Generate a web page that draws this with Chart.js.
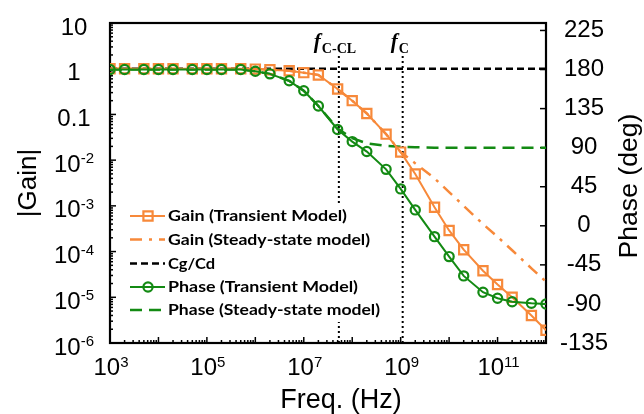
<!DOCTYPE html>
<html><head><meta charset="utf-8">
<script src="https://cdn.jsdelivr.net/npm/chart.js@4.4.0/dist/chart.umd.min.js"></script>
<style>html,body{margin:0;padding:0;background:#fff;}canvas{display:block;}</style>
</head><body>
<canvas id="c" width="644" height="414"></canvas>
<script>
// ---------- data ----------
const freqHz = [1e3,2e3,5e3,1e4,2e4,5e4,1e5,2e5,5e5,1e6,2e6,5e6,1e7,2e7,5e7,1e8,2e8,5e8,1e9,2e9,5e9,1e10,2e10,5e10,1e11,2e11,5e11,1e12];
const gainTransient = [1,1,1,1,1,1,1,1,1,0.98,0.95,0.90,0.82,0.73,0.36,0.20,0.105,0.037,0.015,5.0e-3,9.3e-4,2.9e-4,1.1e-4,3.8e-5,1.9e-5,1.0e-5,4.0e-6,1.9e-6];
const gainSteady = [1,1,1,1,1,1,1,1,1,0.98,0.95,0.90,0.82,0.73,0.36,0.20,0.105,0.037,0.015,8.5e-3,4.0e-3,2.0e-3,1.0e-3,4.0e-4,2.1e-4,1.07e-4,4.3e-5,2.2e-5];
const phaseTransient = [180,180,180,180,180,180,180,180,180,178,175,167,155.5,138,111,97,85.5,65,42.5,18.3,-12.5,-35.5,-57.7,-76.5,-83.4,-87.4,-89.2,-90];
const phaseSteady = [180,180,180,180,180,180,180,180,180,178,175,167,155.5,138,112,101,95,92,91,90.5,90,90,90,90,90,90,90,90];
const cgCdFreq = [1e3, 1e12];
const cgCdValue = [1, 1];
const fcClHz = 5.3e7;
const fcHz = 1.1e9;
const markerGainRange = [1e-6, 2];

const xTickValues = [1e3,1e5,1e7,1e9,1e11];
const xTickBase = ['10','10','10','10','10'];
const xTickSup = ['3','5','7','9','11'];
const gainTickValues = [10,1,0.1,1e-2,1e-3,1e-4,1e-5,1e-6];
const gainTickBase = ['10','1','0.1','10','10','10','10','10'];
const gainTickSup = ['','','','-2','-3','-4','-5','-6'];
const phaseTicks = [-135,-90,-45,0,45,90,135,180,225];

const seriesNames = ['Gain (Transient Model)','Gain (Steady-state model)','Cg/Cd','Phase (Transient Model)','Phase (Steady-state model)'];

// ---------- styles ----------
const ORANGE = '#F7893A';
const GREEN = '#138A13';
const FONT = "'Liberation Sans', Arial, sans-serif";

function pts(xs, ys){ return xs.map((x,i)=>({x, y: ys[i]})); }

const datasets = [
  {label: seriesNames[0], data: pts(freqHz, gainTransient), yAxisID:'yL', borderColor: ORANGE, borderWidth:2,
   pointStyle:'rect', pointRadius:6.5, pointBorderWidth:2.2, pointBorderColor: ORANGE, pointBackgroundColor:'rgba(0,0,0,0)', order:1},
  {label: seriesNames[1], data: pts(freqHz, gainSteady), yAxisID:'yL', borderColor: ORANGE, borderWidth:2.5,
   borderDash:[12,7,3,7], pointRadius:0, order:3},
  {label: seriesNames[2], data: pts(cgCdFreq, cgCdValue), yAxisID:'yL', borderColor:'#000', borderWidth:2.5,
   borderDash:[7,4], pointRadius:0, order:4},
  {label: seriesNames[3], data: pts(freqHz, phaseTransient), yAxisID:'yR', borderColor: GREEN, borderWidth:2,
   pointStyle:'circle', pointRadius:4.6, pointBorderWidth:2.2, pointBorderColor: GREEN, pointBackgroundColor:'rgba(0,0,0,0)', order:0},
  {label: seriesNames[4], data: pts(freqHz, phaseSteady), yAxisID:'yR', borderColor: GREEN, borderWidth:2.5,
   borderDash:[12,7], pointRadius:0, order:2},
  {label: 'fC-CL', data: pts([fcClHz, fcClHz], markerGainRange), yAxisID:'yL', borderColor:'#000', borderWidth:2,
   borderDash:[2,3], pointRadius:0, order:5},
  {label: 'fC', data: pts([fcHz, fcHz], markerGainRange), yAxisID:'yL', borderColor:'#000', borderWidth:2,
   borderDash:[2,3], pointRadius:0, order:6}
];

function seg(ctx,x1,y1,x2,y2){ ctx.beginPath(); ctx.moveTo(x1,y1); ctx.lineTo(x2,y2); ctx.stroke(); }

function supLabel(ctx, base, sup, cx, baseline, bf, sf, raise){
  ctx.font = bf; const wb = ctx.measureText(base).width;
  ctx.font = sf; const ws = sup ? ctx.measureText(sup).width : 0;
  const x0 = cx - (wb + ws)/2;
  ctx.textAlign = 'left'; ctx.textBaseline = 'alphabetic';
  ctx.font = bf; ctx.fillText(base, x0, baseline);
  if (sup){ ctx.font = sf; ctx.fillText(sup, x0 + wb, baseline - raise); }
}

function fitSize(ctx, text, family, weight, target, maxSize){
  ctx.font = weight + " 20px " + family;
  const w = ctx.measureText(text).width;
  return Math.min(maxSize, 20*target/w);
}

const legendTextWidth = [179, 202, 47, 190, 212];

const framePlugin = {
  id:'frame',
  beforeDatasetsDraw(chart){
    const {ctx, chartArea:a, scales} = chart;
    ctx.save();
    ctx.strokeStyle = '#000';
    ctx.lineWidth = 1.5;
    for (let d = 3; d <= 12; d++){
      for (let m = 1; m <= 9; m++){
        const v = m*Math.pow(10,d); if (v > 1e12) break;
        const px = scales.x.getPixelForValue(v);
        seg(ctx, px, a.bottom, px, a.bottom - (m===1?6:3));
      }
    }
    for (let d = -6; d <= 1; d++){
      for (let m = 1; m <= 9; m++){
        const v = m*Math.pow(10,d); if (v > 10) break;
        const py = scales.yL.getPixelForValue(v);
        seg(ctx, a.left, py, a.left + (m===1?6:3), py);
      }
    }
    phaseTicks.forEach(v=>{ const py = scales.yR.getPixelForValue(v); seg(ctx, a.right-6, py, a.right, py); });
    ctx.lineWidth = 2.2;
    ctx.strokeRect(a.left, a.top, a.right-a.left, a.bottom-a.top);
    ctx.restore();
  },
  afterDraw(chart){
    const {ctx, chartArea:a, scales} = chart;
    ctx.save();
    ctx.fillStyle = '#000';
    const bf = "24px " + FONT, sf = "15px " + FONT;
    xTickValues.forEach((v,i)=>{
      const px = scales.x.getPixelForValue(v);
      supLabel(ctx, xTickBase[i], xTickSup[i], px+1, a.bottom+32, bf, sf, 8);
    });
    gainTickValues.forEach((v,i)=>{
      const py = scales.yL.getPixelForValue(v);
      supLabel(ctx, gainTickBase[i], gainTickSup[i], 74, py+11.5, bf, sf, 8.5);
    });
    ctx.textAlign='center'; ctx.textBaseline='middle';
    ctx.font = fitSize(ctx,'Freq. (Hz)',FONT,'',122,27) + "px " + FONT;
    ctx.fillText('Freq. (Hz)', 341, 401);
    ctx.font = fitSize(ctx,'|Gain|',FONT,'',77,26) + "px " + FONT;
    ctx.save(); ctx.translate(29, 183); ctx.rotate(-Math.PI/2); ctx.fillText('|Gain|', 0, 0); ctx.restore();
    ctx.font = fitSize(ctx,'Phase (deg)',FONT,'',145,27) + "px " + FONT;
    ctx.save(); ctx.translate(630, 186); ctx.rotate(-Math.PI/2); ctx.fillText('Phase (deg)', 0, 0); ctx.restore();

    const annot = (hz, sub, dx) => {
      const px = scales.x.getPixelForValue(hz);
      ctx.textAlign='left'; ctx.textBaseline='alphabetic';
      ctx.font = "italic bold 21px 'Liberation Serif', serif";
      const x0 = px + dx;
      ctx.fillText('f', x0, 48);
      const wf = ctx.measureText('f').width;
      ctx.font = "bold 14px 'Liberation Serif', serif";
      ctx.fillText(sub, x0 + wf + 1, 53);
    };
    annot(fcClHz, 'C-CL', -25);
    annot(fcHz, 'C', -12);

    // legend
    ctx.fillStyle = '#fff';
    ctx.fillRect(124, 203, 260, 119);
    const rowsY = [216, 239.5, 263.5, 287, 310];
    const lf = "bold 16px Lato, 'Open Sans', sans-serif";
    datasets.slice(0,5).forEach((ds,i)=>{
      const y = rowsY[i];
      ctx.save();
      ctx.strokeStyle = ds.borderColor; ctx.lineWidth = ds.borderWidth;
      ctx.setLineDash(ds.borderDash || []);
      seg(ctx, 130, y, 165, y);
      ctx.setLineDash([]);
      if (ds.pointRadius > 0){
        ctx.lineWidth = ds.pointBorderWidth;
        ctx.beginPath();
        if (ds.pointStyle === 'rect'){ const s = ds.pointRadius*Math.SQRT1_2; ctx.rect(148-s, y-s, 2*s, 2*s); }
        else { ctx.arc(148, y, ds.pointRadius, 0, Math.PI*2); }
        ctx.stroke();
      }
      ctx.restore();
      ctx.save();
      ctx.fillStyle = '#000'; ctx.font = lf; ctx.textAlign='left'; ctx.textBaseline='middle';
      const w = ctx.measureText(ds.label).width;
      const sx = Math.max(0.85, Math.min(1.3, legendTextWidth[i]/w));
      ctx.translate(168, y); ctx.scale(sx, 1);
      ctx.fillText(ds.label, 0, 0);
      ctx.restore();
    });
    ctx.restore();
  }
};

const noPad = (s)=>{ s.paddingTop = 0; s.paddingBottom = 0; s.paddingLeft = 0; s.paddingRight = 0; };

Chart.defaults.font.family = FONT;
new Chart(document.getElementById('c'), {
  type:'line',
  data:{datasets},
  options:{
    responsive:false, devicePixelRatio:1, animation:false,
    layout:{padding:{top:23,left:0,right:0,bottom:0}},
    plugins:{legend:{display:false}, tooltip:{enabled:false}},
    elements:{line:{tension:0}},
    scales:{
      x:{type:'logarithmic', min:1e3, max:1e12, position:'bottom',
         grid:{display:false, drawTicks:false}, border:{display:false}, ticks:{display:false},
         afterFit:(s)=>{ s.height = 71; noPad(s); }},
      yL:{type:'logarithmic', position:'left', min:1e-6, max:10,
         grid:{display:false, drawTicks:false}, border:{display:false}, ticks:{display:false},
         afterFit:(s)=>{ s.width = 110; noPad(s); }},
      yR:{type:'linear', position:'right', min:-135, max:233.6,
         grid:{display:false, drawTicks:false}, border:{display:false},
         afterBuildTicks:(s)=>{ s.ticks = phaseTicks.map(v=>({value:v})); },
         ticks:{color:'#000', font:{size:24, family:FONT}, padding:14, crossAlign:'center', autoSkip:false},
         afterFit:(s)=>{ s.width = 98; noPad(s); }}
    }
  },
  plugins:[framePlugin]
});
</script>
</body></html>
